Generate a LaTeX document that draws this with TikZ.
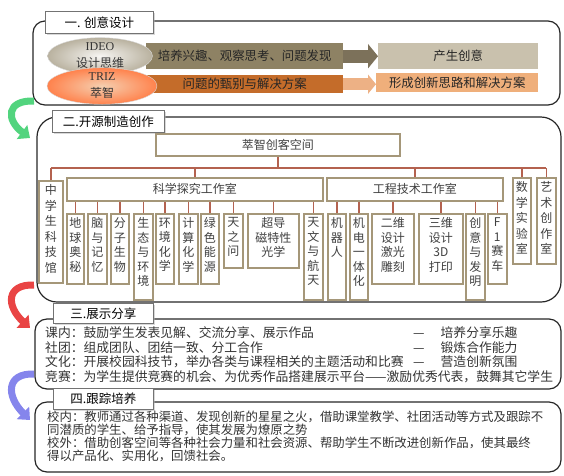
\documentclass[tikz,border=0pt]{standalone}
\usepackage{fontspec}
\newfontfamily\cjk{Noto Sans CJK SC}
\newfontfamily\latin{Liberation Serif}
\usepackage{tikz}
\usetikzlibrary{arrows.meta,shapes.geometric,shadows}

\definecolor{barbrown}{HTML}{8E8264}
\definecolor{arrowbrown}{HTML}{7C715A}
\definecolor{tanlight}{HTML}{C9C1AD}
\definecolor{orangebar}{HTML}{C46C2A}
\definecolor{orangearrow}{HTML}{EDB185}
\definecolor{orangelight}{HTML}{EFAF7B}
\definecolor{roomline}{HTML}{A59779}
\definecolor{linkred}{HTML}{B4624F}
\definecolor{turngreen}{HTML}{52D47E}
\definecolor{turnred}{HTML}{E94444}
\definecolor{turnblue}{HTML}{8585EC}

% vertical text stacked from the top of a fixed box
\newcommand{\vstack}[3]{\parbox[c][#2][t]{#1}{\centering #3}}

\begin{document}
\begin{tikzpicture}[x=1pt,y=-1pt,
  frame/.style={draw=black!85,line width=1.2pt,rounded corners=12pt},
  heading/.style={draw=black!55,fill=white,line width=0.8pt,anchor=north west,inner sep=0pt,
    font=\cjk\fontsize{12.5}{15}\selectfont,
    drop shadow={shadow xshift=1.2pt,shadow yshift=-1.2pt,fill=black!30}},
  bar/.style={anchor=north west,inner sep=0pt,font=\cjk\fontsize{12.4}{14}\selectfont,text=black!85},
  flow/.style={line width=13pt,-{Triangle[length=10pt,width=24pt]}},
  blob/.style={ellipse,inner sep=0pt,align=center,text=black!80,draw=white!70!gray,line width=0.4pt},
  room/.style={draw=roomline,line width=1.6pt,fill=white,anchor=north west,inner xsep=0pt,inner ysep=4pt,
    font=\cjk\fontsize{12}{14.5}\selectfont,text=black!75},
  link/.style={draw=linkred,line width=1.6pt},
  say/.style={anchor=west,inner sep=0pt,font=\cjk\fontsize{12.8}{14}\selectfont,text=black!80},
  turn/.style={line width=7pt,-{Triangle[length=10pt,width=17pt]}}]
\useasboundingbox (0,0) rectangle (564,475);

% section frames
\draw[frame] (33,21) rectangle (560,105);
\draw[frame,rounded corners=20pt] (37,117) rectangle (561,302);
\draw[frame] (35,319) rectangle (561,389);
\draw[frame] (35,402) rectangle (561,472);

% turning arrows
\draw[turn,draw=turngreen] (34,101) .. controls (6,100) and (6,120) .. (30,138);
\draw[turn,draw=turnred] (34,285) .. controls (6,284) and (6,306) .. (30,328);
\draw[turn,draw=turnblue] (34,374) .. controls (6,373) and (6,396) .. (30,420);

% headings
\node[heading,minimum width=108pt,minimum height=22pt] (head1) at (45,11) {一. 创意设计};
\node[heading,minimum width=112pt,minimum height=22pt] (head2) at (52,110) {二.开源制造创作};
\node[heading,minimum width=100pt,minimum height=20pt] (head3) at (53,303) {三.展示分享};
\node[heading,minimum width=100pt,minimum height=21pt] (head4) at (53,388) {四.跟踪培养};

% 1. design
\node[bar,fill=barbrown,minimum width=197pt,minimum height=26pt] (cultivate) at (146,43) {培养兴趣、观察思考、问题发现};
\node[bar,fill=tanlight,minimum width=160pt,minimum height=26pt] (idea) at (378,43) {产生创意};
\draw[flow,draw=arrowbrown] (cultivate.east) -- (idea.west);
\node[bar,fill=orangebar,minimum width=197pt,minimum height=18pt] (screen) at (146,75) {问题的甄别与解决方案};
\node[bar,fill=orangelight,minimum width=162pt,minimum height=19pt] (scheme) at (376,73) {形成创新思路和解决方案};
\draw[flow,draw=orangearrow,line width=12pt,-{Triangle[length=8pt,width=19pt]}] (screen.east) -- (screen.east -| scheme.west);
\node[blob,minimum width=105pt,minimum height=32pt,inner color=white!85!tanlight,outer color=black!8!tanlight,
  font=\cjk\fontsize{12}{17}\selectfont] (ideo) at (100,56) {{\latin IDEO}\\设计思维};
\node[blob,minimum width=110pt,minimum height=28pt,inner color=white!40!orangelight,outer color=orange!60!red!70,
  font=\cjk\fontsize{12}{17}\selectfont] (triz) at (102,86) {{\latin TRIZ}\\萃智};

% 2. maker space
\node[room,minimum width=244pt,minimum height=22pt] (maker) at (155,133) {萃智创客空间};
\node[room,font=\cjk\fontsize{12}{15.5}\selectfont] (kjg) at (38,180) {\vstack{24pt}{94pt}{中\\学\\生\\科\\技\\馆}};
\node[room,minimum width=256pt,minimum height=23pt] (kexue) at (66,177) {科学探究工作室};
\node[room,minimum width=176pt,minimum height=23pt] (gongcheng) at (326,177) {工程技术工作室};
\node[room,font=\cjk\fontsize{12}{15.5}\selectfont] (shuxue) at (512,177) {\vstack{18pt}{78pt}{数\\学\\实\\验\\室}};
\node[room,font=\cjk\fontsize{12}{15.5}\selectfont] (yishu) at (536,177) {\vstack{19pt}{78pt}{艺\\术\\创\\作\\室}};
% science rooms
\node[room] (diqiu) at (66,213) {\vstack{17pt}{62pt}{地\\球\\奥\\秘}};
\node[room] (naoyu) at (87,213) {\vstack{19pt}{62pt}{脑\\与\\记\\忆}};
\node[room] (fenzi) at (110,213) {\vstack{18pt}{62pt}{分\\子\\生\\物}};
\node[room] (shengtai) at (133,213) {\vstack{19pt}{78pt}{生\\态\\与\\环\\境}};
\node[room] (huanjing) at (155,213) {\vstack{18pt}{62pt}{环\\境\\化\\学}};
\node[room] (jisuan) at (178,213) {\vstack{19pt}{62pt}{计\\算\\化\\学}};
\node[room] (lvse) at (200,213) {\vstack{18pt}{62pt}{绿\\色\\能\\源}};
\node[room] (tianzhi) at (223,213) {\vstack{19pt}{46pt}{天\\之\\问}};
\node[room] (chaodao) at (247,213) {\vstack{51pt}{46pt}{超导\\磁特性\\光学}};
\node[room] (tianwen) at (303,213) {\vstack{19pt}{78pt}{天\\文\\与\\航\\天}};
% engineering rooms
\node[room] (jiqiren) at (327,213) {\vstack{18pt}{78pt}{机\\器\\人}};
\node[room] (jidian) at (349,213) {\vstack{18pt}{78pt}{机\\电\\一\\体\\化}};
\node[room] (erwei) at (371,213) {\vstack{42pt}{62pt}{二维\\设计\\激光\\雕刻}};
\node[room] (sanwei) at (418,213) {\vstack{44pt}{62pt}{三维\\设计\\3D\\打印}};
\node[room] (chuangyi) at (465,213) {\vstack{19pt}{78pt}{创\\意\\与\\发\\明}};
\node[room] (fone) at (487,213) {\vstack{19pt}{62pt}{F\\1\\赛\\车}};

\coordinate (bus) at (0,168);
\draw[link] (maker.south) -- (maker.south |- bus);
\draw[link] (kjg.north |- bus) -- (yishu.north |- bus);
\foreach \n in {kjg,kexue,gongcheng,shuxue,yishu}
  \draw[link] (\n.north) -- (\n.north |- bus);
\foreach \n in {diqiu,naoyu,fenzi,shengtai,huanjing,jisuan,lvse,tianzhi,chaodao,tianwen}
  \draw[link] (\n.north) -- (\n.north |- kexue.south);
\foreach \n in {jiqiren,jidian,erwei,sanwei,chuangyi,fone}
  \draw[link] (\n.north) -- (\n.north |- gongcheng.south);

% 3. sharing
\node[say] (kenei) at (45,333) {课内：鼓励学生发表见解、交流分享、展示作品};
\node[say] (shetuan) at (45,347.5) {社团：组成团队、团结一致、分工合作};
\node[say] (wenhua) at (45,362) {文化：开展校园科技节，举办各类与课程相关的主题活动和比赛};
\node[say] (jingsai) at (45,376.5) {竞赛：为学生提供竞赛的机会、为优秀作品搭建展示平台——激励优秀代表，鼓舞其它学生};
\node[say] (lequ) at (413,333) {—\hspace{16pt}培养分享乐趣};
\node[say] (nengli) at (413,347.5) {—\hspace{16pt}锻炼合作能力};
\node[say] (fenwei) at (413,362) {—\hspace{16pt}营造创新氛围};

% 4. follow-up
\node[anchor=north west,inner sep=0pt,align=left,font=\cjk\fontsize{12.4}{11.7}\selectfont,text=black!80] (genzong) at (47,411)
  {校内：教师通过各种渠道、发现创新的星星之火，借助课堂教学、社团活动等方式及跟踪不\\
   同潜质的学生、给予指导，使其发展为燎原之势\\
   校外：借助创客空间等各种社会力量和社会资源、帮助学生不断改进创新作品，使其最终\\
   得以产品化、实用化，回馈社会。};
\end{tikzpicture}
\end{document}
